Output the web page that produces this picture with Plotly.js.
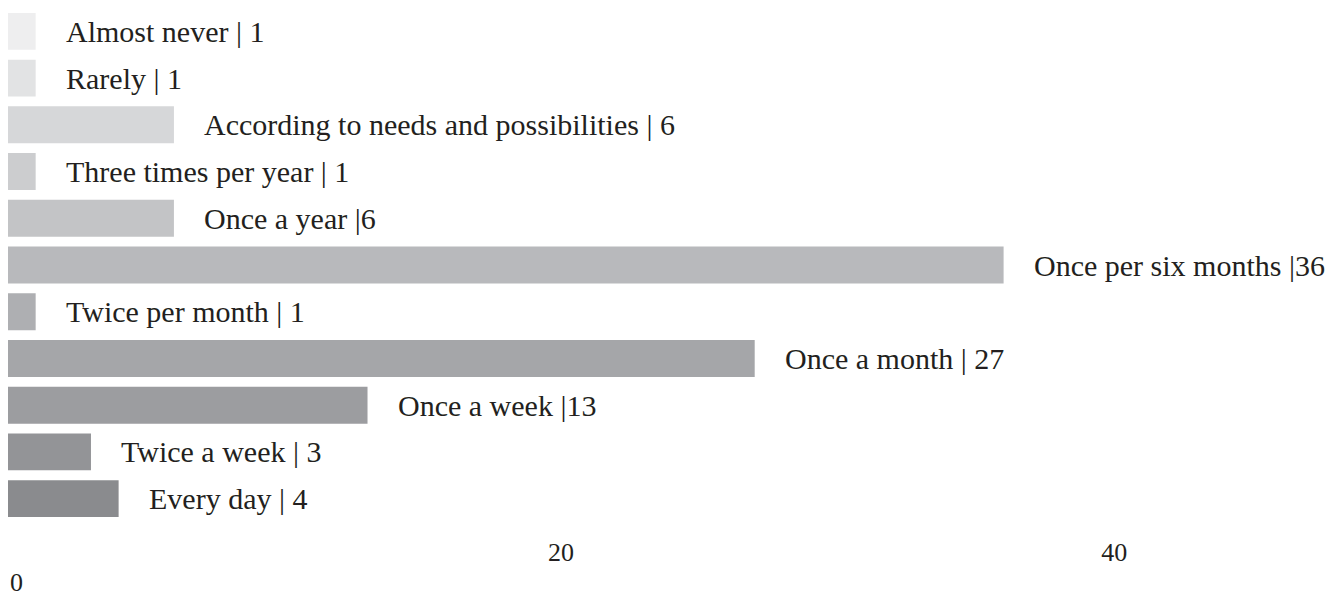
<!DOCTYPE html>
<html>
<head>
<meta charset="utf-8">
<script src="https://cdn.plot.ly/plotly-3.0.1.min.js"></script>
<style>html,body{margin:0;padding:0;background:#fff;}#chart{width:1341px;height:599px;}</style>
</head>
<body>
<div id="chart"></div>
<script>
var categories = ["Almost never","Rarely","According to needs and possibilities","Three times per year","Once a year","Once per six months","Twice per month","Once a month","Once a week","Twice a week","Every day"];
var values = [1,1,6,1,6,36,1,27,13,3,4];
var labels = ["Almost never | 1","Rarely | 1","According to needs and possibilities | 6","Three times per year | 1","Once a year |6","Once per six months |36","Twice per month | 1","Once a month | 27","Once a week |13","Twice a week | 3","Every day | 4"];
var barColors = ["#eeeeef","#e2e3e4","#d6d7d9","#cccdcf","#c3c4c6","#b8b9bc","#aeafb2","#a5a6a9","#9c9da0","#939497","#8a8b8e"];
var tickVals = [0,20,40];
var tickText = ["0","20","40"];

var serif = "Liberation Serif, Times New Roman, serif";

var trace = {
  type: "bar",
  orientation: "h",
  x: values,
  y: categories,
  marker: {color: barColors},
  hoverinfo: "none"
};

var annotations = categories.map(function(c,i){
  return {x: values[i], y: c, xref: "x", yref: "y", text: labels[i], showarrow: false,
          xanchor: "left", yanchor: "middle", xshift: 28,
          font: {family: serif, size: 30, color: "#231f20"}};
});
// the "0" tick label sits lower than the others in the reference
annotations.push({x: tickVals[0], y: 0, xref: "x", yref: "paper", text: tickText[0], showarrow: false,
                  xanchor: "left", yanchor: "top", yshift: -44,
                  font: {family: serif, size: 26, color: "#231f20"}});

var layout = {
  width: 1341, height: 599,
  margin: {l: 8, r: 0, t: 8, b: 77},
  paper_bgcolor: "#ffffff", plot_bgcolor: "#ffffff",
  showlegend: false,
  bargap: 0.21,
  xaxis: {range: [0, 48.2], tickvals: tickVals.slice(1), ticktext: tickText.slice(1),
          showgrid: false, zeroline: false, showline: false, ticks: "",
          ticklabelstandoff: 12,
          tickfont: {family: serif, size: 26, color: "#231f20"}},
  yaxis: {type: "category", categoryorder: "array", categoryarray: categories, autorange: "reversed",
          showticklabels: false, showgrid: false, zeroline: false, showline: false, ticks: ""},
  annotations: annotations
};

Plotly.newPlot("chart", [trace], layout, {displayModeBar: false, staticPlot: true});
</script>
</body>
</html>
